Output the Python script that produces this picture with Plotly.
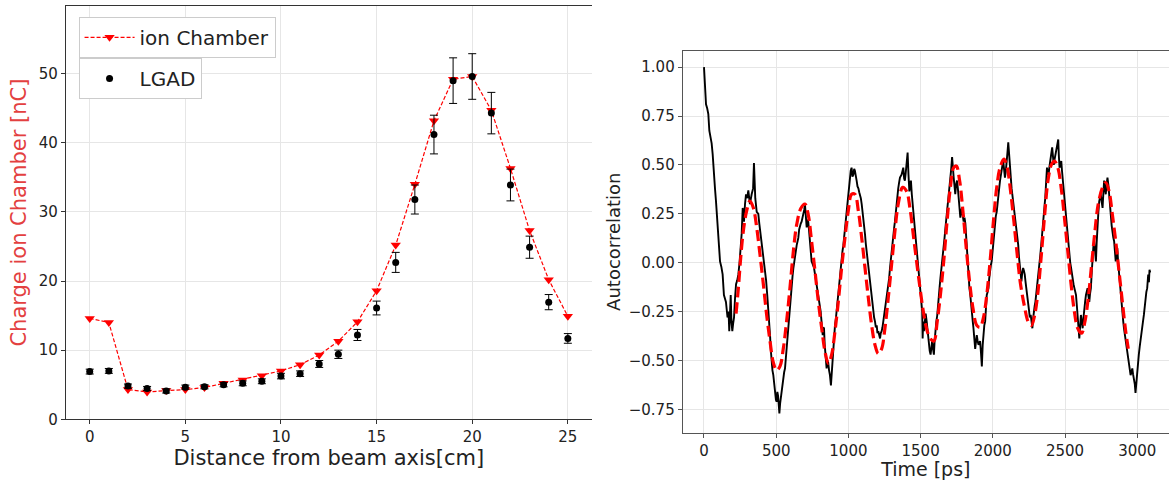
import plotly.graph_objects as go

# ---------------- Left panel data ----------------
distance_cm = list(range(26))
ion_chamber_nC = [14.6, 14.0, 4.3, 3.95, 4.15, 4.3, 4.6, 5.2, 5.7, 6.3, 7.0, 7.9, 9.3, 11.3, 14.1,
                  18.6, 25.2, 34.0, 43.2, 49.2, 49.6, 44.7, 36.3, 27.3, 20.2, 14.9]
lgad_nC = [6.9, 7.0, 4.8, 4.45, 4.1, 4.65, 4.7, 5.0, 5.2, 5.5, 6.25, 6.6, 8.0, 9.4, 12.2,
           16.1, 22.7, 31.8, 41.2, 49.0, 49.6, 44.3, 33.9, 24.9, 16.95, 11.7]
lgad_err = [0.35, 0.35, 0.3, 0.3, 0.3, 0.3, 0.3, 0.3, 0.35, 0.35, 0.4, 0.4, 0.5, 0.6, 0.8,
            1.0, 1.45, 2.1, 2.8, 3.3, 3.3, 3.0, 2.3, 1.6, 1.1, 0.7]

# ---------------- Right panel data (time [ps], autocorrelation) ----------------
autocorr_measured = [
    (0, 1.0), (4, 0.93), (7, 0.86), (14, 0.81), (22, 0.79), (30, 0.76), (37, 0.675), (45, 0.65),
    (53, 0.61), (60, 0.555), (69, 0.42), (76, 0.38), (83, 0.315), (90, 0.25), (97, 0.18),
    (104, 0.11), (111, 0.007), (120, -0.02), (129, -0.06), (138, -0.165), (145, -0.18),
    (152, -0.2), (163, -0.28), (170, -0.25), (175, -0.35), (180, -0.26), (185, -0.165),
    (190, -0.30), (196, -0.35), (202, -0.31), (208, -0.28), (215, -0.18), (222, -0.11),
    (230, -0.09), (238, -0.06), (246, 0.0), (254, 0.075), (261, 0.15), (268, 0.28), (273, 0.22),
    (277, 0.21), (284, 0.3), (291, 0.35), (299, 0.33), (307, 0.37), (313, 0.33), (318, 0.30),
    (330, 0.35), (340, 0.38), (346, 0.51), (351, 0.4), (355, 0.33), (365, 0.26), (376, 0.25),
    (383, 0.2), (392, 0.145), (401, 0.09), (411, 0.04), (422, -0.027), (430, -0.09),
    (438, -0.165), (445, -0.23), (452, -0.30), (458, -0.38), (462, -0.44), (469, -0.52),
    (474, -0.55), (480, -0.575), (486, -0.62), (492, -0.68), (498, -0.7), (503, -0.71),
    (508, -0.66), (513, -0.68), (518, -0.73), (522, -0.77), (527, -0.72), (531, -0.695),
    (540, -0.63), (549, -0.575), (555, -0.56), (561, -0.54), (566, -0.49), (572, -0.44),
    (578, -0.39), (584, -0.335), (590, -0.28), (595, -0.215), (601, -0.16), (607, -0.11),
    (613, -0.07), (619, -0.027), (625, 0.01), (630, 0.04), (636, 0.07), (642, 0.09), (648, 0.11),
    (653, 0.127), (659, 0.17), (665, 0.195), (670, 0.2), (676, 0.21), (682, 0.23), (688, 0.245),
    (694, 0.27), (699, 0.30), (705, 0.22), (711, 0.18), (717, 0.22), (722, 0.21), (728, 0.16),
    (734, 0.11), (740, 0.06), (745, 0.007), (754, -0.01), (762, -0.027), (771, -0.07),
    (780, -0.11), (787, -0.14), (794, -0.165), (801, -0.2), (808, -0.25), (815, -0.31),
    (822, -0.37), (826, -0.33), (831, -0.335), (836, -0.42), (840, -0.47), (845, -0.5),
    (849, -0.54), (855, -0.5), (860, -0.51), (866, -0.55), (872, -0.575), (879, -0.627),
    (885, -0.56), (891, -0.51), (896, -0.44), (900, -0.37), (907, -0.32), (914, -0.28),
    (922, -0.22), (930, -0.165), (936, -0.1), (942, -0.045), (948, 0.0), (953, 0.04),
    (959, 0.06), (965, 0.09), (970, 0.13), (976, 0.18), (982, 0.22), (988, 0.26), (993, 0.3),
    (999, 0.35), (1005, 0.4), (1011, 0.435), (1016, 0.47), (1022, 0.486), (1028, 0.44),
    (1034, 0.45), (1040, 0.48), (1045, 0.47), (1051, 0.43), (1057, 0.42), (1063, 0.39),
    (1069, 0.38), (1075, 0.36), (1080, 0.35), (1086, 0.33), (1092, 0.30), (1097, 0.27),
    (1103, 0.23), (1109, 0.19), (1115, 0.145), (1120, 0.1), (1126, 0.06), (1132, 0.02),
    (1138, -0.027), (1143, -0.07), (1149, -0.11), (1155, -0.16), (1161, -0.2), (1166, -0.22),
    (1172, -0.25), (1178, -0.28), (1184, -0.30), (1190, -0.33), (1196, -0.32), (1201, -0.36),
    (1207, -0.35), (1213, -0.37), (1219, -0.387), (1224, -0.36), (1230, -0.35), (1236, -0.33),
    (1242, -0.30), (1248, -0.27), (1253, -0.23), (1259, -0.21), (1265, -0.18), (1271, -0.15),
    (1276, -0.13), (1282, -0.08), (1288, -0.027), (1294, 0.02), (1299, 0.075), (1305, 0.11),
    (1311, 0.145), (1317, 0.18), (1322, 0.21), (1328, 0.26), (1334, 0.315), (1340, 0.35),
    (1345, 0.38), (1351, 0.41), (1357, 0.435), (1368, 0.45), (1380, 0.486), (1386, 0.43),
    (1391, 0.42), (1397, 0.46), (1403, 0.50), (1410, 0.563), (1416, 0.45), (1422, 0.365),
    (1428, 0.40), (1433, 0.42), (1439, 0.35), (1445, 0.30), (1453, 0.24), (1461, 0.18),
    (1467, 0.13), (1472, 0.09), (1478, 0.05), (1484, 0.007), (1490, -0.05), (1496, -0.096),
    (1502, -0.14), (1507, -0.2), (1511, -0.25), (1514, -0.387), (1518, -0.3), (1523, -0.35),
    (1530, -0.27), (1535, -0.26), (1542, -0.30), (1546, -0.335), (1552, -0.38), (1557, -0.42),
    (1563, -0.45), (1569, -0.47), (1574, -0.44), (1580, -0.40), (1586, -0.44), (1592, -0.47),
    (1597, -0.4), (1603, -0.335), (1609, -0.3), (1615, -0.27), (1620, -0.21), (1626, -0.165),
    (1632, -0.12), (1637, -0.08), (1643, -0.04), (1649, -0.01), (1655, 0.03), (1660, 0.075),
    (1666, 0.13), (1672, 0.18), (1678, 0.22), (1683, 0.26), (1689, 0.31), (1695, 0.35),
    (1701, 0.39), (1706, 0.435), (1712, 0.48), (1718, 0.54), (1723, 0.47), (1729, 0.435),
    (1735, 0.39), (1740, 0.35), (1746, 0.40), (1752, 0.42), (1758, 0.38), (1763, 0.33),
    (1769, 0.27), (1775, 0.23), (1780, 0.26), (1786, 0.28), (1792, 0.24), (1798, 0.21),
    (1804, 0.23), (1810, 0.2), (1815, 0.14), (1821, 0.075), (1827, -0.01), (1832, -0.096),
    (1838, -0.13), (1844, -0.165), (1849, -0.22), (1855, -0.27), (1861, -0.3), (1866, -0.335),
    (1872, -0.39), (1878, -0.44), (1884, -0.40), (1889, -0.37), (1895, -0.4), (1901, -0.42),
    (1907, -0.41), (1912, -0.40), (1918, -0.46), (1924, -0.53), (1930, -0.42), (1935, -0.335),
    (1941, -0.32), (1947, -0.30), (1952, -0.23), (1958, -0.165), (1964, -0.15), (1970, -0.13),
    (1975, -0.08), (1981, -0.027), (1987, -0.01), (1992, 0.007), (1998, 0.06), (2004, 0.11),
    (2010, 0.16), (2015, 0.21), (2021, 0.24), (2027, 0.26), (2032, 0.31), (2038, 0.35),
    (2044, 0.38), (2050, 0.42), (2055, 0.45), (2061, 0.486), (2067, 0.5), (2072, 0.52),
    (2078, 0.47), (2084, 0.435), (2090, 0.47), (2095, 0.50), (2101, 0.56), (2107, 0.615),
    (2112, 0.55), (2118, 0.50), (2124, 0.44), (2130, 0.38), (2135, 0.35), (2141, 0.315),
    (2147, 0.28), (2153, 0.245), (2158, 0.21), (2164, 0.18), (2170, 0.13), (2176, 0.09),
    (2181, 0.03), (2187, -0.027), (2193, -0.06), (2198, -0.096), (2204, -0.05), (2210, -0.027),
    (2215, -0.04), (2221, -0.06), (2227, -0.1), (2233, -0.13), (2238, -0.17), (2244, -0.2),
    (2250, -0.24), (2256, -0.28), (2262, -0.267), (2268, -0.3), (2274, -0.335), (2280, -0.28),
    (2284, -0.23), (2290, -0.22), (2295, -0.2), (2301, -0.16), (2306, -0.13), (2312, -0.1),
    (2318, -0.06), (2323, -0.01), (2329, 0.04), (2335, 0.09), (2340, 0.145), (2346, 0.19),
    (2352, 0.245), (2358, 0.29), (2363, 0.33), (2369, 0.4), (2375, 0.486), (2381, 0.46),
    (2386, 0.45), (2392, 0.49), (2398, 0.52), (2404, 0.55), (2411, 0.59), (2417, 0.54),
    (2422, 0.50), (2428, 0.53), (2434, 0.555), (2440, 0.58), (2446, 0.61), (2453, 0.63),
    (2457, 0.55), (2462, 0.486), (2468, 0.5), (2474, 0.52), (2479, 0.47), (2485, 0.42),
    (2491, 0.37), (2496, 0.315), (2502, 0.28), (2508, 0.245), (2513, 0.2), (2519, 0.145),
    (2525, 0.09), (2530, 0.04), (2536, 0.0), (2542, -0.027), (2547, -0.06), (2553, -0.096),
    (2559, -0.11), (2565, -0.13), (2570, -0.15), (2576, -0.165), (2582, -0.22), (2588, -0.28),
    (2593, -0.33), (2599, -0.387), (2605, -0.32), (2610, -0.267), (2616, -0.3), (2622, -0.335),
    (2628, -0.28), (2633, -0.23), (2639, -0.2), (2645, -0.165), (2651, -0.15), (2656, -0.13),
    (2662, -0.17), (2668, -0.2), (2673, -0.16), (2679, -0.13), (2685, -0.05), (2691, 0.04),
    (2696, 0.08), (2702, 0.11), (2708, 0.06), (2714, 0.007), (2719, 0.1), (2725, 0.21),
    (2731, 0.26), (2737, 0.315), (2742, 0.33), (2748, 0.35), (2754, 0.31), (2760, 0.28),
    (2765, 0.35), (2771, 0.42), (2777, 0.38), (2782, 0.35), (2788, 0.4), (2794, 0.435),
    (2800, 0.4), (2805, 0.365), (2811, 0.3), (2817, 0.245), (2823, 0.19), (2828, 0.145),
    (2834, 0.13), (2840, 0.11), (2845, 0.06), (2851, 0.007), (2857, 0.04), (2862, 0.075),
    (2868, 0.0), (2874, -0.06), (2880, -0.1), (2885, -0.13), (2891, -0.2), (2897, -0.267),
    (2903, -0.3), (2908, -0.335), (2914, -0.37), (2920, -0.40), (2926, -0.44), (2931, -0.47),
    (2937, -0.49), (2943, -0.51), (2948, -0.55), (2954, -0.575), (2960, -0.56), (2966, -0.54),
    (2971, -0.57), (2977, -0.59), (2983, -0.62), (2988, -0.665), (2994, -0.6), (3000, -0.56),
    (3006, -0.51), (3011, -0.47), (3017, -0.43), (3023, -0.387), (3029, -0.36), (3034, -0.335),
    (3040, -0.3), (3046, -0.267), (3051, -0.22), (3057, -0.165), (3063, -0.15), (3069, -0.13),
    (3073, -0.09), (3076, -0.06), (3081, -0.1), (3085, -0.036), (3090, -0.05),
]

autocorr_fit = [
    (222, -0.26), (238, -0.13), (254, 0.024), (272, 0.16), (295, 0.264), (318, 0.315),
    (342, 0.28), (365, 0.18), (388, 0.04), (411, -0.11), (434, -0.267), (457, -0.40),
    (480, -0.51), (503, -0.55), (526, -0.53), (549, -0.44), (572, -0.30), (595, -0.13),
    (619, 0.06), (642, 0.195), (672, 0.28), (699, 0.30), (722, 0.245), (745, 0.11),
    (769, -0.045), (792, -0.2), (815, -0.335), (838, -0.455), (861, -0.515), (884, -0.47),
    (907, -0.35), (930, -0.2), (953, -0.027), (976, 0.127), (999, 0.264), (1022, 0.35),
    (1045, 0.35), (1069, 0.264), (1092, 0.127), (1115, -0.027), (1138, -0.18), (1161, -0.32),
    (1184, -0.42), (1207, -0.465), (1230, -0.44), (1253, -0.335), (1276, -0.18), (1299, -0.01),
    (1322, 0.16), (1345, 0.30), (1376, 0.385), (1403, 0.365), (1426, 0.28), (1449, 0.145),
    (1472, 0.007), (1496, -0.13), (1519, -0.25), (1546, -0.35), (1569, -0.39), (1592, -0.40),
    (1615, -0.30), (1637, -0.165), (1660, 0.007), (1683, 0.21), (1706, 0.385), (1729, 0.486),
    (1747, 0.495), (1770, 0.42), (1793, 0.264), (1816, 0.075), (1839, -0.096), (1862, -0.23),
    (1889, -0.32), (1912, -0.33), (1935, -0.28), (1958, -0.165), (1981, 0.007), (2004, 0.21),
    (2027, 0.385), (2050, 0.486), (2077, 0.53), (2100, 0.486), (2123, 0.365), (2146, 0.21),
    (2169, 0.04), (2192, -0.11), (2221, -0.23), (2244, -0.30), (2267, -0.32), (2290, -0.267),
    (2313, -0.147), (2336, 0.04), (2359, 0.245), (2382, 0.42), (2405, 0.50), (2427, 0.52),
    (2450, 0.486), (2473, 0.385), (2496, 0.23), (2519, 0.06), (2542, -0.11), (2565, -0.25),
    (2588, -0.335), (2615, -0.36), (2638, -0.30), (2661, -0.18), (2684, -0.01), (2707, 0.16),
    (2730, 0.30), (2760, 0.385), (2782, 0.41), (2805, 0.365), (2828, 0.245), (2851, 0.11),
    (2874, -0.045), (2897, -0.2), (2920, -0.35), (2938, -0.44),
]

x_ticks_left = [0, 5, 10, 15, 20, 25]
y_ticks_left = [0, 10, 20, 30, 40, 50]
x_ticks_right = [0, 500, 1000, 1500, 2000, 2500, 3000, 3500]
y_ticks_right = [-0.75, -0.5, -0.25, 0.0, 0.25, 0.5, 0.75, 1.0]

meas_t = [p[0] for p in autocorr_measured]
meas_v = [p[1] for p in autocorr_measured]
fit_t = [p[0] for p in autocorr_fit]
fit_v = [p[1] for p in autocorr_fit]

FONT = "DejaVu Sans"
GRID = "#e6e6e6"

fig = go.Figure()

fig.add_trace(go.Scatter(
    x=distance_cm, y=ion_chamber_nC, mode="lines+markers", name="ion Chamber",
    line=dict(color="red", width=1.2, dash="4px,2px"),
    marker=dict(symbol="triangle-down", size=9, color="red"),
    xaxis="x", yaxis="y", legend="legend",
))
fig.add_trace(go.Scatter(
    x=distance_cm, y=lgad_nC, mode="markers", name="LGAD",
    marker=dict(symbol="circle", size=7, color="black"),
    error_y=dict(type="data", array=lgad_err, visible=True, color="black", thickness=1, width=4),
    xaxis="x", yaxis="y", legend="legend2",
))
fig.add_trace(go.Scatter(
    x=meas_t, y=meas_v, mode="lines", line=dict(color="black", width=1.9),
    xaxis="x2", yaxis="y2", showlegend=False,
))
fig.add_trace(go.Scatter(
    x=fit_t, y=fit_v, mode="lines", line=dict(color="red", width=3.2, dash="11px,5px", shape="spline"),
    xaxis="x2", yaxis="y2", showlegend=False,
))

axis_common = dict(showgrid=True, gridcolor=GRID, gridwidth=1, zeroline=False, showline=True,
                   ticks="outside", ticklen=4, tickwidth=1, automargin=False,
                   tickfont=dict(family=FONT, size=15, color="#222"))

legend_common = dict(xanchor="left", yanchor="top", bgcolor="white", bordercolor="#cccccc",
                     borderwidth=1, itemwidth=50, font=dict(family=FONT, size=20, color="#222"))

fig.update_layout(
    width=1169, height=480,
    margin=dict(l=0, r=0, t=0, b=0),
    paper_bgcolor="white", plot_bgcolor="white",
    font=dict(family=FONT, color="#222"),
    xaxis=dict(**axis_common, domain=[0.0563, 0.5062], anchor="y", range=[-1.25, 26.25],
               tickvals=x_ticks_left, linecolor="#333", tickcolor="#333", mirror=True,
               title=dict(text="Distance from beam axis[cm]", font=dict(family=FONT, size=21, color="#222"),
                          standoff=4)),
    yaxis=dict(**axis_common, domain=[0.1265, 0.9875], anchor="x", range=[0, 59.8],
               tickvals=y_ticks_left, linecolor="#333", tickcolor="#333",
               title=dict(text="Charge ion Chamber [nC]", font=dict(family=FONT, size=21, color="#e34040"),
                          standoff=6)),
    xaxis2=dict(**axis_common, domain=[0.584, 1.0], anchor="y2", range=[-147.5, 3220],
                tickvals=x_ticks_right, linecolor="#555", tickcolor="#555", mirror=True,
                title=dict(text="Time [ps]", font=dict(family=FONT, size=19, color="#222"), standoff=2)),
    yaxis2=dict(**axis_common, domain=[0.0985, 0.8944], anchor="x2", range=[-0.869, 1.084],
                tickvals=y_ticks_right, tickformat=".2f", linecolor="#555", tickcolor="#555",
                title=dict(text="Autocorrelation", font=dict(family=FONT, size=18, color="#222"), standoff=3)),
    legend=dict(x=0.0672, y=0.965, **legend_common),
    legend2=dict(x=0.0672, y=0.879, **legend_common),
)

fig.write_html("out.html", config={"displayModeBar": False},
               post_script="document.body.style.margin='0px';document.body.style.overflow='hidden';")
